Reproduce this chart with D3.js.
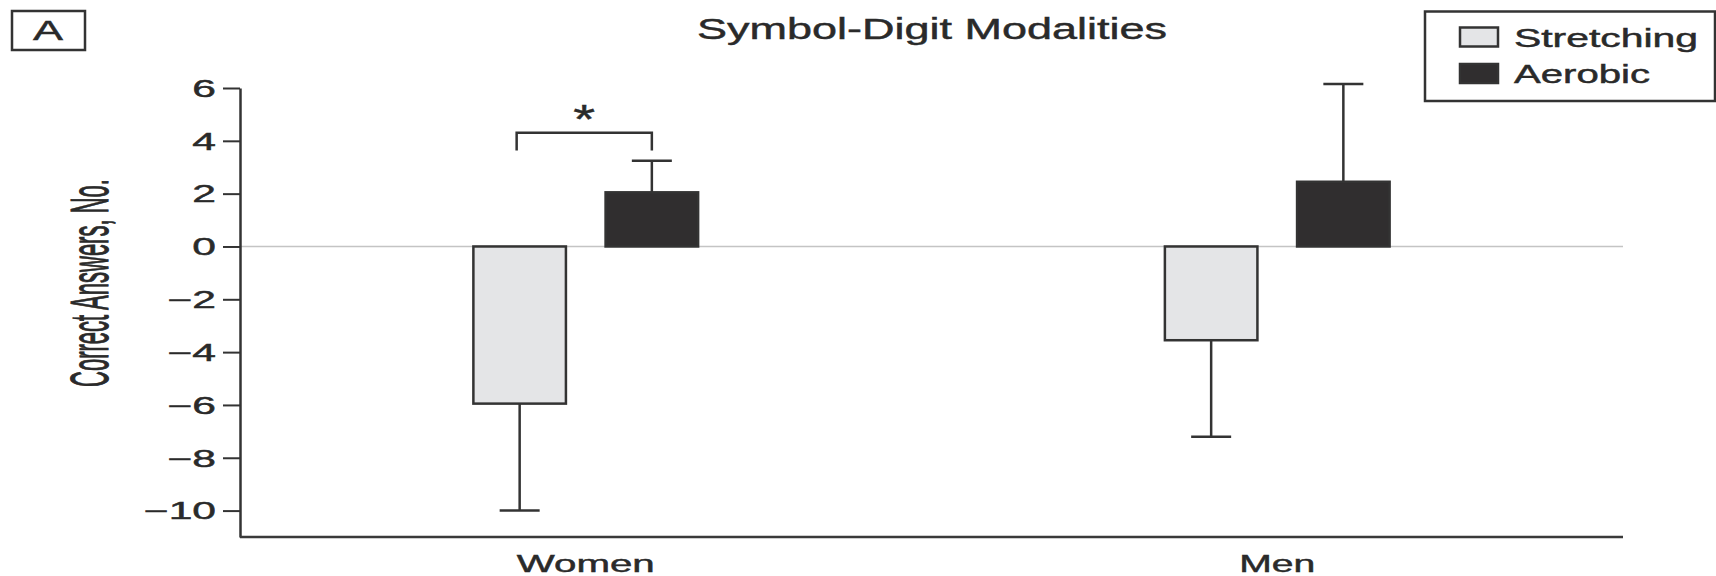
<!DOCTYPE html>
<html>
<head>
<meta charset="utf-8">
<script src="https://cdn.jsdelivr.net/npm/d3@7"></script>
<style>
  html, body { margin: 0; padding: 0; background: #fff; }
  svg { display: block; }
  text { font-family: Arial, "Liberation Sans", Helvetica, sans-serif; fill: #2a2a2a; stroke: #2a2a2a; stroke-width: 0.45; }
</style>
</head>
<body>
<svg id="chart" width="1716" height="576"></svg>
<script>
// ---- data ----
const groups = ["Women", "Men"];
const series = ["Stretching", "Aerobic"];
const stretchingValues = [-5.95, -3.55];
const aerobicValues = [2.05, 2.45];
const stretchingErrors = [4.05, 3.65];
const aerobicErrors = [1.2, 3.7];
const yTicks = [-10, -8, -6, -4, -2, 0, 2, 4, 6];
const yDomain = [-11, 6];
const title = "Symbol-Digit Modalities";
const yLabel = "Correct Answers, No.";
const panelLabel = "A";
// significance bracket (Women): between Stretching and Aerobic
const sigGroup = "Women";
const sigBracketTop = 4.31;
const sigBracketLeg = 3.63;
const sigStarLevel = 5.07;

(function () {
const rows = [];
groups.forEach((g, i) => {
  rows.push({ group: g, series: "Stretching", value: stretchingValues[i], err: stretchingErrors[i] });
  rows.push({ group: g, series: "Aerobic", value: aerobicValues[i], err: aerobicErrors[i] });
});

const svg = d3.select("#chart");
const mLeft = 240, mRight = 1623, mTop = 88, mBottom = 537;

const y = d3.scaleLinear().domain(yDomain).range([mBottom, mTop]);
const x0 = d3.scaleBand().domain(groups).range([mLeft, mRight]).paddingInner(0.675).paddingOuter(0.3375);
const x1 = d3.scaleBand().domain(series).range([0, x0.bandwidth()]).paddingInner(0.3);
const fill = d3.scaleOrdinal().domain(series).range(["#e4e5e7", "#302e2f"]);
const dark = "#333";

// zero line
svg.append("line")
  .attr("x1", mLeft).attr("x2", mRight)
  .attr("y1", y(0)).attr("y2", y(0))
  .attr("stroke", "#c4c4c4").attr("stroke-width", 1.5);

// y axis
const yAxis = svg.append("g")
  .attr("transform", `translate(${mLeft},0)`)
  .call(d3.axisLeft(y).tickValues(yTicks).tickSize(17).tickSizeOuter(0).tickPadding(0));
yAxis.select(".domain").attr("stroke", dark).attr("stroke-width", 2.5);
yAxis.selectAll(".tick line").attr("stroke", dark).attr("stroke-width", 2);
const tickSx = 1.85;
yAxis.selectAll(".tick text")
  .attr("font-size", 23)
  .attr("fill", "#2a2a2a")
  .attr("x", -24 / tickSx)
  .attr("dy", "0.36em")
  .attr("transform", `scale(${tickSx},1)`);

// x axis line
svg.append("line")
  .attr("x1", mLeft).attr("x2", mRight)
  .attr("y1", mBottom).attr("y2", mBottom)
  .attr("stroke", "#3a3a3a").attr("stroke-width", 2.5);

// x labels
const xLabelWidths = { Women: 138, Men: 76 };
svg.selectAll(".xlab").data(groups).join("text")
  .attr("class", "xlab")
  .attr("x", g => x0(g) + x0.bandwidth() / 2)
  .attr("y", 571.5)
  .attr("text-anchor", "middle")
  .attr("font-size", 24)
  .attr("textLength", g => xLabelWidths[g])
  .attr("lengthAdjust", "spacingAndGlyphs")
  .text(g => g);

// error bars
const barX = d => x0(d.group) + x1(d.series);
const barC = d => barX(d) + x1.bandwidth() / 2;
const errEnd = d => d.value >= 0 ? d.value + d.err : d.value - d.err;
const capHalf = 20;

svg.selectAll(".err").data(rows).join("line")
  .attr("class", "err")
  .attr("x1", barC).attr("x2", barC)
  .attr("y1", d => y(d.value)).attr("y2", d => y(errEnd(d)))
  .attr("stroke", dark).attr("stroke-width", 2.5);
svg.selectAll(".cap").data(rows).join("line")
  .attr("class", "cap")
  .attr("x1", d => barC(d) - capHalf).attr("x2", d => barC(d) + capHalf)
  .attr("y1", d => y(errEnd(d))).attr("y2", d => y(errEnd(d)))
  .attr("stroke", dark).attr("stroke-width", 2.5);

// bars
svg.selectAll(".bar").data(rows).join("rect")
  .attr("class", "bar")
  .attr("x", barX)
  .attr("width", x1.bandwidth())
  .attr("y", d => y(Math.max(0, d.value)))
  .attr("height", d => Math.abs(y(d.value) - y(0)))
  .attr("fill", d => fill(d.series))
  .attr("stroke", dark).attr("stroke-width", 2.5);

// significance bracket
const sL = x0(sigGroup) + x1("Stretching") + x1.bandwidth() / 2 - 3;
const sR = x0(sigGroup) + x1("Aerobic") + x1.bandwidth() / 2;
svg.append("path")
  .attr("d", `M${sL},${y(sigBracketLeg)}V${y(sigBracketTop)}H${sR}V${y(sigBracketLeg)}`)
  .attr("fill", "none").attr("stroke", dark).attr("stroke-width", 2.5);
const starX = (sL + sR) / 2;
svg.append("text")
  .attr("transform", `translate(${starX},${y(sigStarLevel)}) scale(1.4,1)`)
  .attr("text-anchor", "middle")
  .attr("dy", "0.52em")
  .attr("font-size", 40)
  .attr("fill", "#6a6a6a")
  .attr("stroke", "none")
  .text("*");

// title
svg.append("text")
  .attr("x", 697).attr("y", 39)
  .attr("font-size", 29)
  .attr("textLength", 470)
  .attr("lengthAdjust", "spacingAndGlyphs")
  .text(title);

// y label (rotated, condensed)
svg.append("text")
  .attr("transform", `translate(108,283) scale(2.4,1) rotate(-90)`)
  .attr("text-anchor", "middle")
  .attr("font-size", 22)
  .attr("stroke-width", 0.35)
  .text(yLabel);

// panel label
svg.append("rect")
  .attr("x", 12).attr("y", 11).attr("width", 73).attr("height", 39)
  .attr("fill", "none").attr("stroke", dark).attr("stroke-width", 2.5);
svg.append("text")
  .attr("x", 48).attr("y", 40)
  .attr("text-anchor", "middle")
  .attr("font-size", 28)
  .attr("textLength", 30)
  .attr("lengthAdjust", "spacingAndGlyphs")
  .text(panelLabel);

// legend
const legend = svg.append("g");
legend.append("rect")
  .attr("x", 1425).attr("y", 11.5).attr("width", 290).attr("height", 89.5)
  .attr("fill", "#fff").attr("stroke", dark).attr("stroke-width", 2.5);
const legW = { Stretching: 184, Aerobic: 136 };
const legY = d3.scalePoint().domain(series).range([37, 73.5]);
legend.selectAll(".sw").data(series).join("rect")
  .attr("class", "sw")
  .attr("x", 1460).attr("y", s => legY(s) - 9.5)
  .attr("width", 38).attr("height", 19)
  .attr("fill", s => fill(s)).attr("stroke", dark).attr("stroke-width", 2.5);
legend.selectAll(".lt").data(series).join("text")
  .attr("class", "lt")
  .attr("x", 1514).attr("y", s => legY(s) + 9.5)
  .attr("font-size", 25)
  .attr("textLength", s => legW[s])
  .attr("lengthAdjust", "spacingAndGlyphs")
  .text(s => s);
})();
</script>
</body>
</html>
